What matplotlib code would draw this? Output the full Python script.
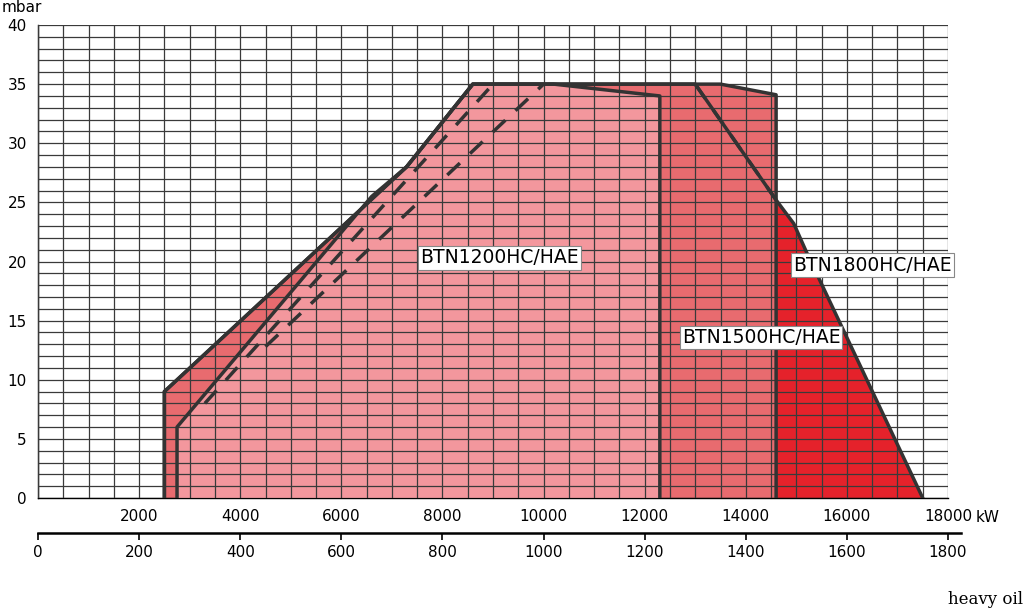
import matplotlib.pyplot as plt
import numpy as np

# polygon outlines (kW, mbar)
btn1800_kw = [2500, 2500, 7290, 8600, 13000, 14600, 14950, 15200, 17500]
btn1800_mbar = [0, 9.0, 28.0, 35.0, 35.0, 25.2, 23.2, 20.8, 0]
btn1500_kw = [2500, 2500, 7290, 8600, 13500, 14600, 14600]
btn1500_mbar = [0, 9.0, 28.0, 35.0, 35.0, 34.1, 0]
btn1200_kw = [2750, 2750, 6600, 7290, 8600, 9000, 10200, 12300, 12300]
btn1200_mbar = [0, 6.0, 25.5, 28.0, 35.0, 35.0, 35.0, 34.0, 0]

# dashed limit lines
dash_lines = [
    ([3300, 9000], [8.0, 35.0]),
    ([4500, 10000], [12.8, 35.0]),
    ([13000, 14600], [35.0, 25.2]),
]

labels = ["BTN1200HC/HAE", "BTN1500HC/HAE", "BTN1800HC/HAE"]
label_pos = [(9130, 20.3), (14300, 13.6), (16500, 19.7)]

kw_ticks = [2000, 4000, 6000, 8000, 10000, 12000, 14000, 16000, 18000]
kgh_ticks = [0, 200, 400, 600, 800, 1000, 1200, 1400, 1600, 1800]

fig = plt.figure(figsize=(10.24, 6.1), dpi=100)
ax = fig.add_axes([38 / 1024, 112 / 610, 910 / 1024, 473 / 610])

edge = '#333333'
ax.fill(btn1800_kw, btn1800_mbar, color='#e5222b', zorder=1)
ax.fill(btn1500_kw, btn1500_mbar, color='#e86b6f', zorder=2)
ax.fill(btn1200_kw, btn1200_mbar, color='#f3979d', zorder=3)

# grid on top of the fills
for x in np.arange(0, 18001, 500):
    ax.axvline(x, color='#3a3a3a', lw=0.9, zorder=4)
for y in np.arange(0, 41, 1):
    ax.axhline(y, color='#3a3a3a', lw=0.9, zorder=4)

ax.plot(btn1800_kw, btn1800_mbar, color=edge, lw=2.5, zorder=5)
ax.plot(btn1500_kw, btn1500_mbar, color=edge, lw=2.5, zorder=5)
ax.plot(btn1200_kw, btn1200_mbar, color=edge, lw=2.5, zorder=5)
for xs, ys in dash_lines:
    ax.plot(xs, ys, color=edge, lw=2.5, ls=(0, (5, 4)), zorder=5)

for txt, (x, y) in zip(labels, label_pos):
    ax.text(x, y, txt, fontsize=13.5, ha='center', va='center', zorder=6,
            bbox=dict(facecolor='white', edgecolor='#888888', pad=1.5, lw=0.8))

ax.set_xlim(0, 18000)
ax.set_ylim(0, 40)
ax.set_xticks(kw_ticks)
ax.set_yticks(range(0, 41, 5))
ax.tick_params(length=0, labelsize=11, pad=8)
for s in ['top', 'right']:
    ax.spines[s].set_visible(False)
ax.spines['left'].set_linewidth(1)
ax.spines['bottom'].set_linewidth(1)
ax.set_clip_on(False)

fig.text(2 / 1024, 1 - 8 / 610, 'mbar', fontsize=11, va='center')
fig.text(976 / 1024, 1 - 518 / 610, 'kW', fontsize=11, va='center')
fig.text(948 / 1024, 1 - 600 / 610, 'heavy oil', fontsize=12,
         family='DejaVu Serif', va='center')

# secondary kg/h axis
ax2 = fig.add_axes([38 / 1024, 77 / 610, 910 / 1024, 0.001])
ax2.set_xlim(0, 1800)
ax2.set_xticks(kgh_ticks)
ax2.set_yticks([])
for s in ['top', 'right', 'left']:
    ax2.spines[s].set_visible(False)
ax2.spines['bottom'].set_linewidth(1.8)
ax2.spines['bottom'].set_bounds(0, 1825)
ax2.tick_params(axis='x', direction='out', length=5, width=1.2, labelsize=11)
ax2.patch.set_visible(False)

fig.savefig('out.png', dpi=100)
